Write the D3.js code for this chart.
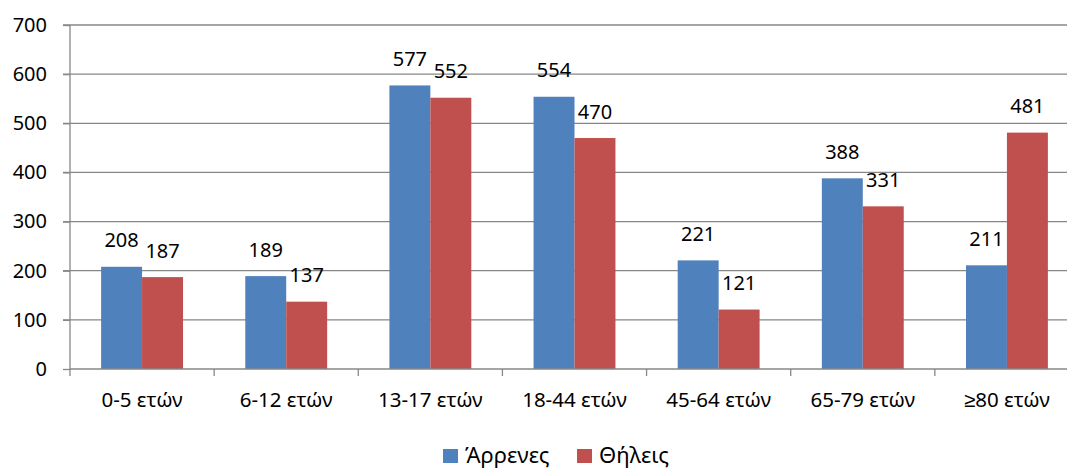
<!DOCTYPE html>
<html><head><meta charset="utf-8">
<script src="https://cdn.jsdelivr.net/npm/d3@7"></script>
<style>body{margin:0;background:#fff;} svg{display:block;}</style>
</head><body>
<svg id="c" width="1067" height="468"></svg>
<script>
const categories = ["0-5 ετών","6-12 ετών","13-17 ετών","18-44 ετών","45-64 ετών","65-79 ετών","≥80 ετών"];
const seriesNames = ["Άρρενες","Θήλεις"];
const males = [208,189,577,554,221,388,211];
const females = [187,137,552,470,121,331,481];
const yTicks = [0,100,200,300,400,500,600,700];
const colors = ["#4F81BD","#C0504D"];

const font = "'Noto Sans', sans-serif";
const svg = d3.select("#c");
const m = {left:70, right:1079, top:25, bottom:369};
const x = d3.scaleBand().domain(categories).range([m.left, m.right]).paddingInner(0).paddingOuter(0);
const inner = d3.scaleBand().domain(seriesNames).range([0, x.bandwidth()]).paddingInner(0).paddingOuter(0.76);
const y = d3.scaleLinear().domain([0,700]).range([m.bottom, m.top]);

// gridlines
svg.append("g").selectAll("line").data(yTicks.filter(d=>d>0)).join("line")
  .attr("x1", m.left-7).attr("x2", m.right)
  .attr("y1", d=>y(d)).attr("y2", d=>y(d))
  .attr("stroke","#878787").attr("stroke-width",1.3);

const data = categories.map((c,i)=>({c, vals:[males[i],females[i]]}));
const g = svg.append("g").selectAll("g").data(data).join("g")
  .attr("transform", d=>`translate(${x(d.c)},0)`);
g.selectAll("rect").data(d=>d.vals.map((v,j)=>({v,s:seriesNames[j],j}))).join("rect")
  .attr("x", d=>inner(d.s)).attr("width", inner.bandwidth())
  .attr("y", d=>y(d.v)).attr("height", d=>y(0)-y(d.v))
  .attr("fill", d=>colors[d.j]);
g.selectAll("text").data(d=>d.vals.map((v,j)=>({v,s:seriesNames[j],j}))).join("text")
  .attr("x", d=>inner(d.s)+inner.bandwidth()/2).attr("y", d=>y(d.v)-19.5)
  .attr("text-anchor","middle").attr("font-family",font).attr("font-size",20).attr("fill","#000")
  .text(d=>d.v);

// y axis
const ya = svg.append("g").attr("transform",`translate(${m.left},0)`)
  .call(d3.axisLeft(y).tickValues(yTicks).tickSize(7).tickPadding(16).tickFormat(d3.format("d")));
ya.select(".domain").attr("stroke","#878787").attr("stroke-width",1.3).attr("d",`M0,${m.top}V${m.bottom}`);
ya.selectAll(".tick line").attr("stroke","#878787").attr("stroke-width",1.3);
ya.selectAll("text").attr("font-family",font).attr("font-size",20).attr("fill","#000");

// x axis
const xa = svg.append("g").attr("transform",`translate(0,${m.bottom})`)
  .call(d3.axisBottom(x).tickSize(0));
xa.select(".domain").attr("stroke","#878787").attr("stroke-width",1.3).attr("d",`M${m.left},0H${m.right}`);
xa.selectAll("text").attr("y",38).attr("dy",null).attr("font-family",font).attr("font-size",20.5).attr("fill","#000");
// category boundary ticks
svg.append("g").selectAll("line").data(categories.map((c,i)=>i).concat([categories.length])).join("line")
  .attr("x1", i=>m.left + i*x.step()).attr("x2", i=>m.left + i*x.step())
  .attr("y1", m.bottom).attr("y2", m.bottom+7)
  .attr("stroke","#878787").attr("stroke-width",1.3);

// legend
const lg = svg.append("g").attr("transform","translate(443,449)");
const items = lg.selectAll("g").data(seriesNames).join("g")
  .attr("transform",(d,i)=>`translate(${i*134},0)`);
items.append("rect").attr("width",15).attr("height",14).attr("fill",(d,i)=>colors[i]);
items.append("text").attr("x",22).attr("y",14).attr("font-family",font).attr("font-size",22).text(d=>d);
</script>
</body></html>
